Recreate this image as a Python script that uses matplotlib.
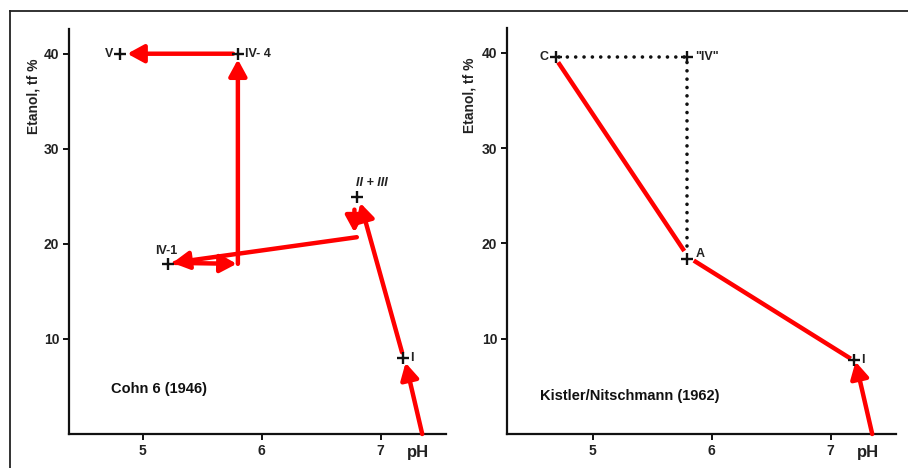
import matplotlib
matplotlib.use("Agg")
import matplotlib.pyplot as plt
from matplotlib.lines import Line2D

plt.rcParams['font.family'] = ['Liberation Sans', 'DejaVu Sans']

# --- Cohn 6 (1946) ---
cohn_pts_ph = [4.81, 5.80, 6.80, 5.21, 7.19]
cohn_pts_et = [40.0, 40.0, 24.9, 17.9, 8.0]
cohn_labels = ['V', 'IV- 4', 'II + III', 'IV-1', 'I']

# arrows: start -> end
cohn_from_ph = [7.35, 7.18, 6.78, 6.80, 5.27, 5.80, 5.76]
cohn_from_et = [0.0, 8.6, 23.6, 20.7, 18.0, 17.9, 40.0]
cohn_to_ph = [7.21, 6.83, 6.78, 5.25, 5.79, 5.80, 4.87]
cohn_to_et = [7.5, 24.3, 21.2, 18.0, 17.9, 39.4, 40.0]

# --- Kistler/Nitschmann (1962) ---
kn_pts_ph = [4.69, 5.79, 5.79, 7.20]
kn_pts_et = [39.6, 39.6, 18.4, 7.8]
kn_labels = ['C', '"IV"', 'A', 'I']

kn_line1_ph = [4.71, 5.77]
kn_line1_et = [39.0, 19.2]
kn_line2_ph = [5.85, 7.17]
kn_line2_et = [18.2, 7.9]
kn_arrow_ph = [7.35, 7.21]
kn_arrow_et = [0.0, 7.6]
kn_dot_ph = [4.72, 5.79, 5.79]
kn_dot_et = [39.6, 39.6, 19.6]

xticks = [5, 6, 7]
yticks = [10, 20, 30, 40]

fig = plt.figure(figsize=(9.08, 4.68), dpi=100)

# frame lines
fig.add_artist(Line2D([10/908, 10/908], [0, 1 - 11/468], color='#222', lw=1.3))
fig.add_artist(Line2D([10/908, 1], [1 - 11/468, 1 - 11/468], color='#222', lw=1.3))

ax1 = fig.add_axes([69/908, 34/468, 377/908, 405/468])
ax2 = fig.add_axes([507/908, 34/468, 389/908, 406/468])


def style(ax, xlim):
    ax.set_xlim(*xlim)
    ax.set_ylim(0, 42.6)
    for s in ['top', 'right']:
        ax.spines[s].set_visible(False)
    for s in ['left', 'bottom']:
        ax.spines[s].set_linewidth(1.6)
        ax.spines[s].set_color('#111')
    ax.set_xticks(xticks)
    ax.set_yticks(yticks)
    ax.tick_params(length=4, width=1.4, labelsize=10, color='#111', pad=3)
    for t in ax.get_xticklabels() + ax.get_yticklabels():
        t.set_fontweight('bold')
        t.set_color('#222')
    ax.set_facecolor('none')


def arrow(ax, x0, y0, x1, y1):
    ax.annotate('', xy=(x1, y1), xytext=(x0, y0),
                arrowprops=dict(arrowstyle='-|>,head_length=0.55,head_width=0.3',
                                color='#ff0000', lw=3.2, mutation_scale=18,
                                shrinkA=0, shrinkB=0))


style(ax1, (4.38, 7.55))
style(ax2, (4.28, 7.55))

# left panel
for i in range(len(cohn_from_ph)):
    arrow(ax1, cohn_from_ph[i], cohn_from_et[i], cohn_to_ph[i], cohn_to_et[i])
ax1.plot(cohn_pts_ph, cohn_pts_et, ls='none', marker='+', ms=8, mew=1.7, color='#111', zorder=5)

lbl_kw = dict(fontsize=9, fontweight='bold', color='#222')
ax1.text(cohn_pts_ph[0] - 0.06, cohn_pts_et[0], cohn_labels[0], ha='right', va='center', **lbl_kw)
ax1.text(cohn_pts_ph[1] + 0.06, cohn_pts_et[1], cohn_labels[1], ha='left', va='center', **lbl_kw)
ax1.text(cohn_pts_ph[2] + 0.13, cohn_pts_et[2] + 1.5, cohn_labels[2], ha='center', va='center',
         style='italic', **lbl_kw)
ax1.text(cohn_pts_ph[3] - 0.01, cohn_pts_et[3] + 1.4, cohn_labels[3], ha='center', va='center', **lbl_kw)
ax1.text(cohn_pts_ph[4] + 0.06, cohn_pts_et[4], cohn_labels[4], ha='left', va='center', **lbl_kw)
ax1.text(4.73, 4.7, 'Cohn 6 (1946)', fontsize=10.5, fontweight='bold', color='#111', va='center')

# right panel
ax2.plot(kn_dot_ph, kn_dot_et, color='#111', lw=2.6, ls=(0, (0.01, 2.3)),
         dash_capstyle='round', zorder=3)
ax2.plot(kn_line1_ph, kn_line1_et, color='#ff0000', lw=3.2, solid_capstyle='butt')
ax2.plot(kn_line2_ph, kn_line2_et, color='#ff0000', lw=3.2, solid_capstyle='butt')
arrow(ax2, kn_arrow_ph[0], kn_arrow_et[0], kn_arrow_ph[1], kn_arrow_et[1])
ax2.plot(kn_pts_ph, kn_pts_et, ls='none', marker='+', ms=8, mew=1.7, color='#111', zorder=5)

ax2.text(kn_pts_ph[0] - 0.06, kn_pts_et[0], kn_labels[0], ha='right', va='center', **lbl_kw)
ax2.text(kn_pts_ph[1] + 0.07, kn_pts_et[1], kn_labels[1], ha='left', va='center', **lbl_kw)
ax2.text(kn_pts_ph[2] + 0.08, kn_pts_et[2] + 0.5, kn_labels[2], ha='left', va='center', **lbl_kw)
ax2.text(kn_pts_ph[3] + 0.06, kn_pts_et[3], kn_labels[3], ha='left', va='center', **lbl_kw)
ax2.text(4.56, 4.0, 'Kistler/Nitschmann (1962)', fontsize=10.5, fontweight='bold', color='#111', va='center')

# axis labels placed like the scan
for ax, xpix, x0 in [(ax1, 33, 69), (ax2, 470, 507)]:
    ax.text((xpix - x0) / (ax.get_position().width * 908), (468 - 96 - 34) / 405, 'Etanol, tf %',
            rotation=90, ha='center', va='center', fontsize=10, fontweight='bold',
            color='#222', transform=ax.transAxes)

ax1.text((418 - 69) / 377, -18 / 405, 'pH', transform=ax1.transAxes, ha='center', va='center',
         fontsize=12, fontweight='bold', color='#222')
ax2.text((868 - 507) / 389, -18 / 406, 'pH', transform=ax2.transAxes, ha='center', va='center',
         fontsize=12, fontweight='bold', color='#222')

fig.savefig('out.png', dpi=100, facecolor='white')
